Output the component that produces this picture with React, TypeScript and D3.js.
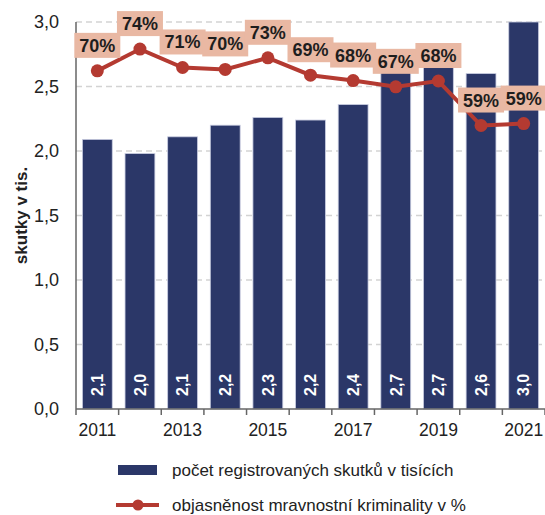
import * as d3 from 'd3';

const years = ['2011', '2012', '2013', '2014', '2015', '2016', '2017', '2018', '2019', '2020', '2021'];
const cases = [2.09, 1.98, 2.11, 2.2, 2.26, 2.24, 2.36, 2.68, 2.68, 2.6, 3.0];
const caseLabels = ['2,1', '2,0', '2,1', '2,2', '2,3', '2,2', '2,4', '2,7', '2,7', '2,6', '3,0'];
const clearance = [69.9, 74.4, 70.6, 70.2, 72.6, 69.0, 67.9, 66.6, 67.8, 58.6, 59.0];
const yTicks = [0, 0.5, 1, 1.5, 2, 2.5, 3];
const xTickYears = ['2011', '2013', '2015', '2017', '2019', '2021'];

const W = 545;
const H = 515;
const margin = { top: 22, right: 0, bottom: 106, left: 76 };
const font = '"Liberation Sans", Arial, sans-serif';

const navy = '#2b3768';
const red = '#b43a31';
const salmon = '#e9b8a3';

export default function App() {
  const x = d3
    .scaleBand()
    .domain(years)
    .range([margin.left, W - margin.right])
    .paddingInner(0.3)
    .paddingOuter(0.15);
  const y = d3
    .scaleLinear()
    .domain([0, 3])
    .range([H - margin.bottom, margin.top]);
  // hidden secondary axis for the percentage line
  const yPct = d3
    .scaleLinear()
    .domain([0, 80])
    .range([H - margin.bottom, margin.top]);

  const cx = (yr) => x(yr) + x.bandwidth() / 2;
  const step = x.step();
  const base = y(0);

  const line = d3
    .line()
    .x((d, i) => cx(years[i]))
    .y((d) => yPct(d));

  return (
    <svg
      width={W}
      height={H}
      style={{ position: 'absolute', left: 0, top: 0, fontFamily: font }}
    >
      {/* grid */}
      {yTicks.slice(1).map((t) => (
        <line
          key={t}
          x1={margin.left}
          x2={W}
          y1={y(t)}
          y2={y(t)}
          stroke="#d3d3d3"
          strokeWidth={1.5}
          strokeDasharray="6,4"
        />
      ))}

      {/* y tick labels */}
      {yTicks.map((t) => (
        <text
          key={t}
          x={59}
          y={y(t)}
          dy="0.35em"
          textAnchor="end"
          fontSize={18}
          fill="#222"
        >
          {d3.format('.1f')(t).replace('.', ',')}
        </text>
      ))}

      {/* y title */}
      <text
        transform={`translate(21,${(y(0) + y(3)) / 2}) rotate(-90)`}
        textAnchor="middle"
        dy="0.35em"
        fontSize={17}
        fontWeight="bold"
        fill="#222"
      >
        skutky v tis.
      </text>

      {/* bars */}
      {cases.map((v, i) => (
        <rect
          key={years[i]}
          x={x(years[i])}
          y={y(v)}
          width={x.bandwidth()}
          height={base - y(v)}
          fill={navy}
          stroke="#c8cce0"
          strokeWidth={0.8}
        />
      ))}
      {caseLabels.map((l, i) => (
        <text
          key={years[i]}
          transform={`translate(${cx(years[i])},${base - 13}) rotate(-90)`}
          dy="0.36em"
          fontSize={16}
          fontWeight="bold"
          fill="#fff"
        >
          {l}
        </text>
      ))}

      {/* axes */}
      <line x1={margin.left} x2={margin.left} y1={y(3)} y2={base} stroke="#666" strokeWidth={1.5} />
      <line x1={margin.left} x2={W} y1={base} y2={base} stroke="#666" strokeWidth={1.5} />
      {d3.range(years.length + 1).map((i) => (
        <line
          key={i}
          x1={margin.left + i * step}
          x2={margin.left + i * step}
          y1={base}
          y2={base + 6}
          stroke="#666"
          strokeWidth={1.5}
        />
      ))}
      {xTickYears.map((yr) => (
        <text key={yr} x={cx(yr)} y={base + 27} textAnchor="middle" fontSize={17.5} fill="#222">
          {yr}
        </text>
      ))}

      {/* line */}
      <path d={line(clearance)} fill="none" stroke={red} strokeWidth={4} />
      {clearance.map((v, i) => (
        <circle key={years[i]} cx={cx(years[i])} cy={yPct(v)} r={6.5} fill={red} />
      ))}

      {/* line labels */}
      {clearance.map((v, i) => {
        const px = cx(years[i]);
        const py = yPct(v);
        const w = 46;
        return (
          <g key={years[i]}>
            <rect x={px - w / 2} y={py - 38} width={w} height={25} fill={salmon} />
            <text
              x={px}
              y={py - 25.5}
              dy="0.36em"
              textAnchor="middle"
              fontSize={18}
              fontWeight="bold"
              fill="#1e1e1e"
            >
              {Math.round(v)}%
            </text>
          </g>
        );
      })}

      {/* legend */}
      <rect x={118} y={465} width={39} height={10} fill={navy} />
      <text x={172} y={470} dy="0.36em" fontSize={17} fill="#222">
        počet registrovaných skutků v tisících
      </text>
      <line x1={116} x2={159} y1={505} y2={505} stroke={red} strokeWidth={4} />
      <circle cx={138} cy={505} r={5.5} fill={red} />
      <text x={172} y={505} dy="0.36em" fontSize={17} fill="#222">
        objasněnost mravnostní kriminality v %
      </text>
    </svg>
  );
}
